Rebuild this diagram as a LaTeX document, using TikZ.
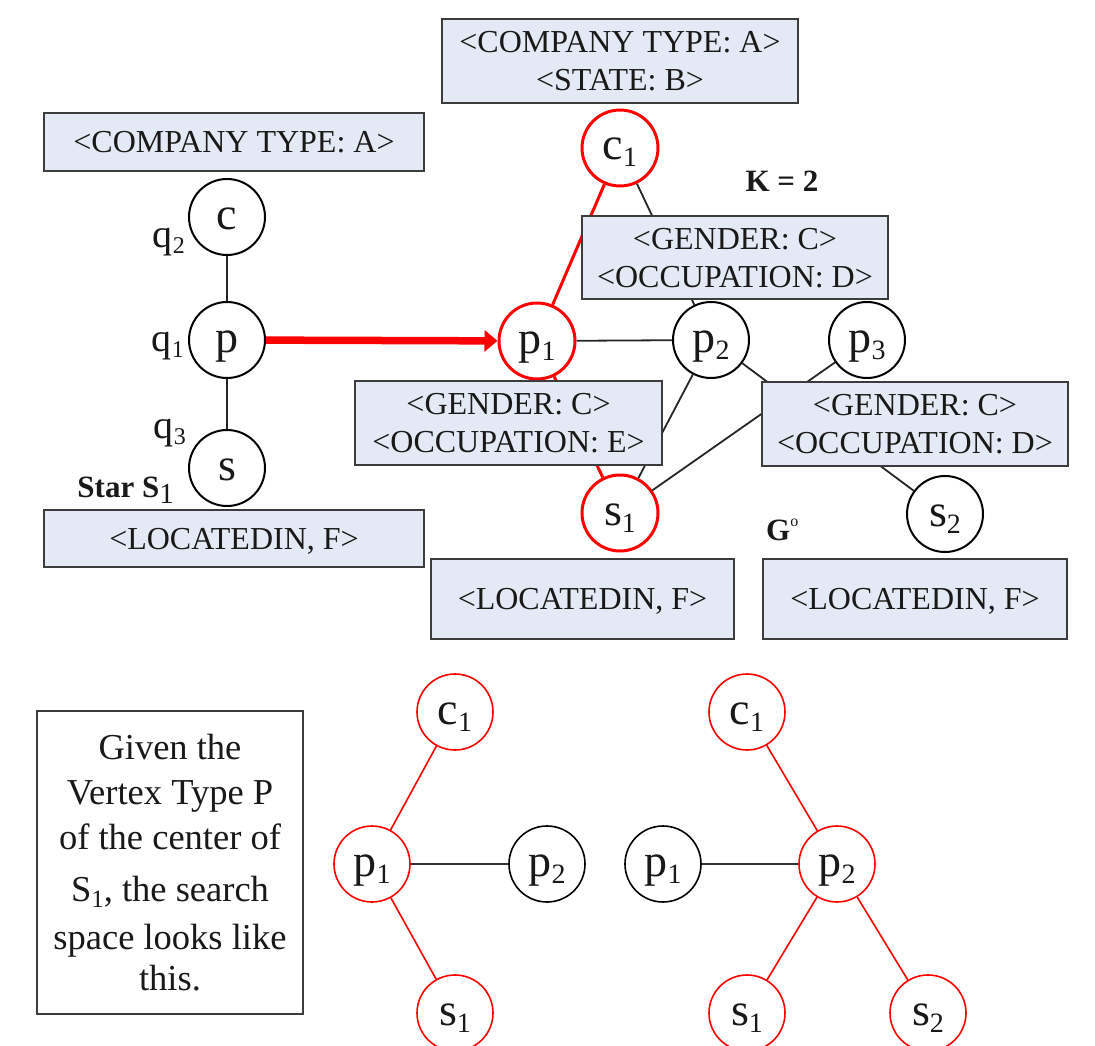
\documentclass[tikz,border=0pt]{standalone}
\usepackage{fontspec}
\setmainfont{Liberation Serif}
\usetikzlibrary{arrows.meta}
\definecolor{boxfill}{RGB}{228,234,245}
\definecolor{boxline}{RGB}{60,60,60}
\definecolor{ink}{RGB}{25,25,25}
% lowered index: size, drop, text
\newcommand\lowsub[3]{\raisebox{-#2}{\fontsize{#1}{#1}\selectfont #3}}
\newcommand\vsub[2]{#1\lowsub{28}{7pt}{#2}}
\begin{document}
\begin{tikzpicture}[x=1pt,y=-1pt,
  vtx/.style={circle, draw=black, line width=2pt, minimum size=76pt, inner sep=0pt,
    fill=white, text=ink, font=\fontsize{46}{46}\selectfont, text height=32pt, text depth=8pt},
  hotvtx/.style={vtx, draw=red, line width=3pt},
  thinvtx/.style={vtx, line width=1.6pt},
  thinhot/.style={vtx, draw=red, line width=1.6pt},
  attr/.style={rectangle, draw=boxline, line width=2.4pt, fill=boxfill, inner sep=0pt,
    text=ink, font=\fontsize{32}{38}\selectfont, align=center, text depth=0pt},
  edge/.style={draw=black!85, line width=1.8pt},
  hotedge/.style={draw=red, line width=3pt},
  thinedge/.style={draw=black!80, line width=1.8pt},
  thinhotedge/.style={draw=red, line width=1.6pt},
  qlab/.style={text=ink, font=\fontsize{40}{40}\selectfont, inner sep=0pt},
  boldlab/.style={text=ink, font=\fontsize{31}{31}\selectfont\bfseries, inner sep=0pt}]
\useasboundingbox (0,0) rectangle (1095,1046);

% query star S1
\node[vtx] (c) at (227,217) {c};
\node[vtx] (p) at (227,340) {p};
\node[vtx] (s) at (227,468) {s};
\draw[edge] (c) -- (p);
\draw[edge] (p) -- (s);
\node[qlab, anchor=base east] (q2) at (185,247) {q\lowsub{24}{6pt}{2}};
\node[qlab, anchor=base east] (q1) at (184,351) {q\lowsub{24}{6pt}{1}};
\node[qlab, anchor=base east] (q3) at (186,438) {q\lowsub{24}{6pt}{3}};
\node[boldlab, anchor=base east] (star) at (174,497) {Star S\lowsub{29}{6pt}{\mdseries 1}};
\node[attr, minimum width=380pt, minimum height=58pt] (ctype) at (234,142) {<COMPANY TYPE: A>};
\node[attr, minimum width=380pt, minimum height=57pt] (loc) at (234,538.5) {<LOCATEDIN, F>};

% data graph
\node[hotvtx] (c1) at (620,148) {\vsub{c}{1}};
\node[hotvtx] (p1) at (537,341) {\vsub{p}{1}};
\node[vtx] (p2) at (711,340) {\vsub{p}{2}};
\node[vtx] (p3) at (867,340) {\vsub{p}{3}};
\node[hotvtx] (s1) at (620,513) {\vsub{s}{1}};
\node[vtx] (s2) at (945,514) {\vsub{s}{2}};

\draw[hotedge] (c1) -- (p1);
\draw[hotedge] (p1) -- (s1);
\draw[edge] (c1) -- (p2);
\draw[edge] (p1) -- (p2);
\draw[edge] (p2) -- (s1);
\draw[edge] (p2) -- (s2);
\draw[edge] (p3) -- (s1);

\draw[red, line width=7.5pt, -{Triangle[length=13pt,width=21pt]}] (p) -- (p1);

\node[attr, minimum width=356pt, minimum height=84pt] (c1attr) at (620,61) {<COMPANY TYPE: A>\\<STATE: B>};
\node[attr, minimum width=306pt, minimum height=83pt] (p2attr) at (735,257.5) {<GENDER: C>\\<OCCUPATION: D>};
\node[attr, minimum width=307pt, minimum height=84pt] (p1attr) at (508.5,423) {<GENDER: C>\\<OCCUPATION: E>};
\node[attr, minimum width=306pt, minimum height=84pt] (p3attr) at (915,424) {<GENDER: C>\\<OCCUPATION: D>};
\node[attr, minimum width=303pt, minimum height=80pt] (s1attr) at (582.5,599) {<LOCATEDIN, F>};
\node[attr, minimum width=304pt, minimum height=80pt] (s2attr) at (915,599) {<LOCATEDIN, F>};

\node[boldlab, anchor=base] (k) at (782,191) {K = 2};
\node[boldlab, anchor=base west] (g) at (766,540) {G\raisebox{14pt}{\mdseries\fontsize{16}{16}\selectfont o}};

% search space note
\node[rectangle, draw=boxline, line width=2.4pt, fill=white, minimum width=266pt, minimum height=303pt,
  inner sep=0pt, text=ink, align=center, text depth=0pt, font=\fontsize{36.5}{45}\selectfont] (note) at (170,862.5)
  {Given the\\Vertex Type P\\of the center of\\[7pt]S\lowsub{25}{6pt}{1}, the search\\[3pt]space looks like\\[-4pt]this.};

% search space around p1
\node[thinhot] (ac1) at (455,712) {\vsub{c}{1}};
\node[thinhot] (ap1) at (372,864) {\vsub{p}{1}};
\node[thinvtx] (ap2) at (547,864) {\vsub{p}{2}};
\node[thinhot] (as1) at (455,1013) {\vsub{s}{1}};
\draw[thinhotedge] (ac1) -- (ap1);
\draw[thinhotedge] (ap1) -- (as1);
\draw[thinedge] (ap1) -- (ap2);

% search space around p2
\node[thinhot] (bc1) at (747,712) {\vsub{c}{1}};
\node[thinvtx] (bp1) at (663,864) {\vsub{p}{1}};
\node[thinhot] (bp2) at (837,864) {\vsub{p}{2}};
\node[thinhot] (bs1) at (747,1013) {\vsub{s}{1}};
\node[thinhot] (bs2) at (928,1013) {\vsub{s}{2}};
\draw[thinhotedge] (bc1) -- (bp2);
\draw[thinhotedge] (bp2) -- (bs1);
\draw[thinhotedge] (bp2) -- (bs2);
\draw[thinedge] (bp1) -- (bp2);
\end{tikzpicture}
\end{document}
